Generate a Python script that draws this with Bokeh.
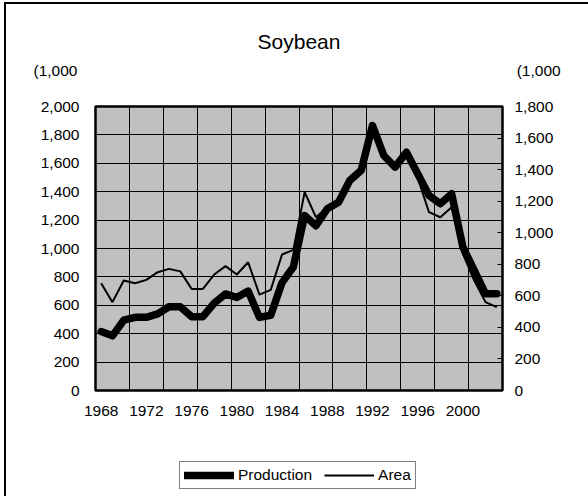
from bokeh.plotting import figure
from bokeh.layouts import column
from bokeh.models import (Range1d, LinearAxis, FixedTicker, NumeralTickFormatter,
                          Legend, LegendItem, Title)
from bokeh.embed import file_html
from bokeh.resources import INLINE

years = list(range(1968, 2004))
production = [415, 385, 495, 515, 515, 540, 590, 590, 520, 520, 615, 680,
              655, 700, 515, 530, 760, 870, 1232, 1160, 1280, 1326, 1480, 1550,
              1866, 1655, 1573, 1678, 1526, 1373, 1315, 1385, 1009, 845, 681, 681]
area = [680, 560, 697, 680, 701, 750, 771, 755, 644, 644, 735, 788,
        735, 813, 608, 638, 862, 891, 1257, 1098, 1162, 1193, 1331, 1394,
        1679, 1490, 1416, 1510, 1348, 1130, 1098, 1162, 866, 697, 560, 528]
x_tick_labels = list(range(1968, 2001, 4))
left_ticks = list(range(0, 2001, 200))
right_ticks = list(range(0, 1801, 200))
title_text = "Soybean"
unit_text = "(1,000"
series_names = ["Production", "Area"]

FONT = "Liberation Sans"
FS = "15.5px"
W = 582
HM = 444
HL = 48
BL, BR = 89, 86

# ---------------- main chart ----------------
p = figure(width=W, height=HM, output_backend="svg", toolbar_location=None,
           title=None,
           x_range=Range1d(1967.5, 2003.5), y_range=Range1d(0, 2000),
           min_border_left=BL, min_border_right=BR, min_border_top=102,
           min_border_bottom=58)
p.extra_y_ranges = {"area": Range1d(0, 1800)}

p.background_fill_color = "#C0C0C0"
p.border_fill_color = "white"
p.outline_line_color = "black"
p.outline_line_width = 2.5

p.xaxis.ticker = FixedTicker(ticks=x_tick_labels)
p.yaxis.ticker = FixedTicker(ticks=left_ticks)
p.yaxis.formatter = NumeralTickFormatter(format="0,0")
ra = LinearAxis(y_range_name="area", ticker=FixedTicker(ticks=right_ticks),
                formatter=NumeralTickFormatter(format="0,0"))
p.add_layout(ra, "right")

for ax in [p.xaxis[0], p.yaxis[0], ra]:
    ax.axis_line_color = None
    ax.major_label_text_font = FONT
    ax.major_label_text_font_size = FS
    ax.major_label_text_color = "black"
    ax.minor_tick_line_color = None
    ax.major_tick_out = 0
    ax.major_tick_in = 0
p.xaxis.major_label_standoff = 15
p.yaxis.major_label_standoff = 16
ra.major_tick_in = 5
ra.major_tick_line_color = "black"
ra.major_label_standoff = 12

p.xgrid.ticker = FixedTicker(ticks=[1967.5 + 3 * k for k in range(1, 12)])
p.xgrid.grid_line_color = "black"
p.xgrid.grid_line_width = 1
p.ygrid.grid_line_color = "black"
p.ygrid.grid_line_width = 1

p.line(years, production, line_color="black", line_width=7.5,
       line_join="round", line_cap="round")
p.line(years, area, line_color="black", line_width=2, y_range_name="area")

# above the frame: spacer, unit captions (left and right), chart title
p.add_layout(Title(text=" ", text_font_size="10px", standoff=15), "above")
gap = "\u00a0" * 102
p.add_layout(Title(text=unit_text + gap + unit_text, align="left", offset=-62,
                   text_font=FONT, text_font_size=FS, text_font_style="normal",
                   text_color="black", standoff=0), "above")
p.add_layout(Title(text=title_text, align="center", text_font=FONT,
                   text_font_size="21px", text_font_style="normal",
                   text_color="black", standoff=13), "above")

# ---------------- legend strip ----------------
# the strip shows only the legend: its ranges keep the copied series out of view
lf = figure(width=W, height=HL, output_backend="svg", toolbar_location=None,
            x_range=Range1d(0, 1), y_range=Range1d(0, 1),
            x_axis_type=None, y_axis_type=None,
            min_border_left=BL, min_border_right=BR, min_border_top=0,
            min_border_bottom=0)
lf.outline_line_color = None
lf.background_fill_color = "white"
lf.border_fill_color = "white"
lf.grid.visible = False
g_prod = lf.line(years, production, line_color="black", line_width=7.5,
                 line_join="round", line_cap="round")
g_area = lf.line(years, area, line_color="black", line_width=2)
legend = Legend(items=[LegendItem(label=series_names[0], renderers=[g_prod]),
                       LegendItem(label=series_names[1], renderers=[g_area])],
                orientation="horizontal", location=(84, 7),
                label_text_font=FONT, label_text_font_size=FS,
                label_text_color="black", glyph_width=50, glyph_height=16,
                label_height=16, label_standoff=4, spacing=12, padding=4,
                margin=0, border_line_color="black", border_line_width=1,
                background_fill_color="white", background_fill_alpha=1)
lf.add_layout(legend, "center")

layout = column(p, lf, spacing=0,
                styles={"border-left": "2px solid black",
                        "border-top": "2px solid black",
                        "margin-left": "4px", "margin-top": "2px"})

open("out.html", "w").write(file_html(layout, INLINE))
